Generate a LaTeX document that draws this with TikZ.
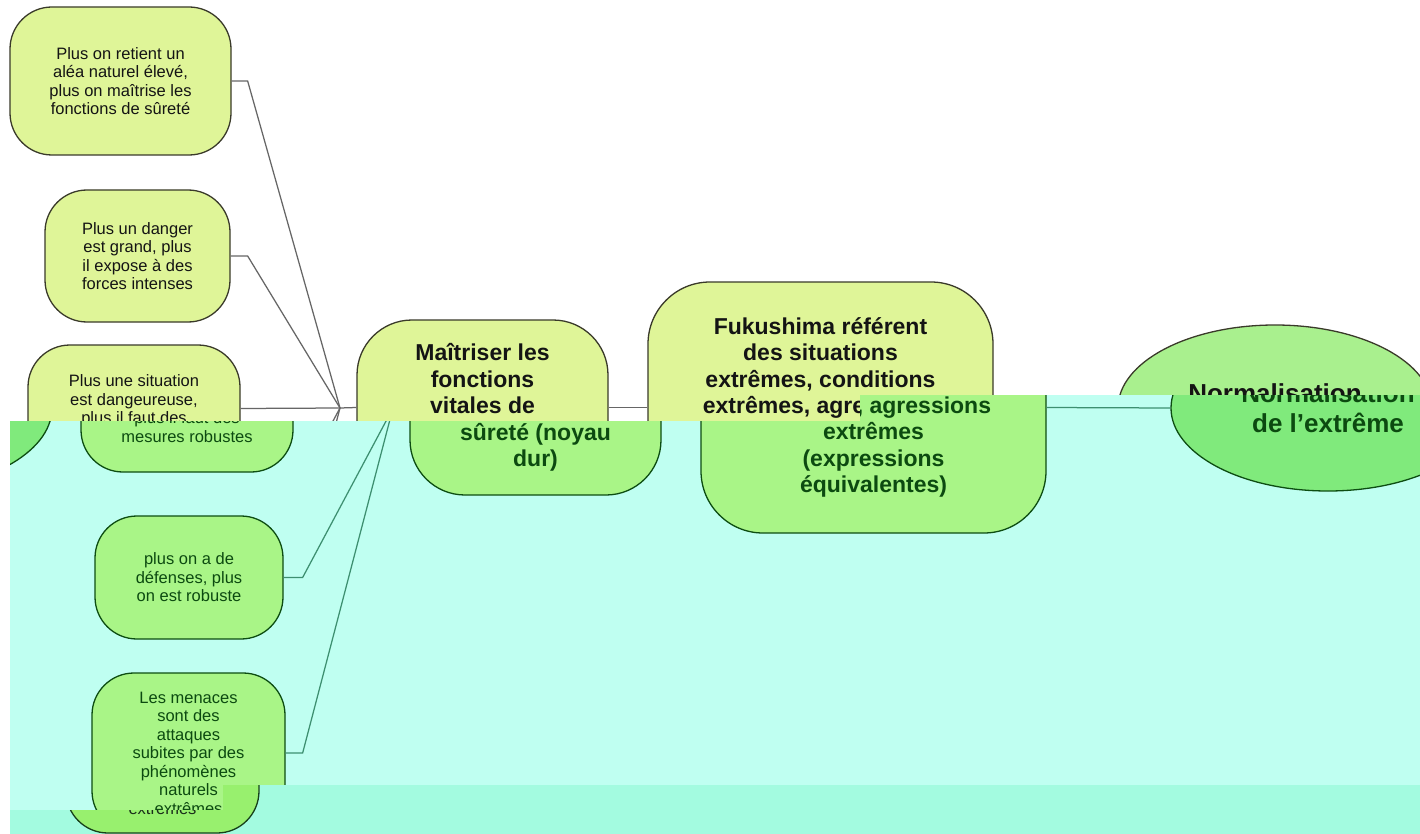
\documentclass[tikz,border=0pt]{standalone}
\usepackage{fontspec}
\setmainfont{Liberation Sans}
\usetikzlibrary{shapes.geometric}

% palettes
\definecolor{upBg}{HTML}{FFFFFF}
\definecolor{upLeaf}{HTML}{DFF598}
\definecolor{upRoot}{HTML}{A9F08E}
\definecolor{upEdge}{HTML}{3A3A2A}
\definecolor{upInk}{HTML}{141414}
\definecolor{upLink}{HTML}{666666}

\definecolor{midBg}{HTML}{BFFFF1}
\definecolor{midLeaf}{HTML}{A9F587}
\definecolor{midRoot}{HTML}{80EA7C}
\definecolor{midEdge}{HTML}{0D4D12}
\definecolor{midInk}{HTML}{0C4A10}
\definecolor{midLink}{HTML}{3D8F70}

\definecolor{lowBg}{HTML}{A3FBE0}
\definecolor{lowLeaf}{HTML}{98F06E}
\definecolor{lowRoot}{HTML}{70E070}
\definecolor{lowEdge}{HTML}{17401A}
\definecolor{lowInk}{HTML}{1A2E1A}
\definecolor{lowLink}{HTML}{3D8F70}

\tikzset{
  leaf/.style={draw=edgecol, fill=leaffill, line width=1.3pt, rounded corners=42pt,
    align=center, inner sep=0pt, text=inkcol,
    font=\fontsize{16.5}{18.5}\selectfont},
  core/.style={draw=edgecol, fill=leaffill, line width=1.3pt,
    align=center, inner sep=0pt, text=inkcol,
    font=\bfseries\fontsize{23}{26.4}\selectfont},
  rootnode/.style={ellipse, draw=edgecol, fill=rootfill, line width=1.3pt,
    align=center, inner sep=0pt, text=inkcol,
    font=\bfseries\fontsize{26}{30}\selectfont},
  link/.style={draw=linkcol, line width=1.25pt}
}

% nodes of the map; #1 prefixes every name
\newcommand\leafOne[1]{%
  \node[leaf, minimum width=221pt, minimum height=148pt] (#1n1) at (120.5,81)
    {Plus on retient un\\aléa naturel élevé,\\plus on maîtrise les\\fonctions de sûreté};}
\newcommand\leafTwo[1]{%
  \node[leaf, minimum width=185pt, minimum height=132pt] (#1n2) at (137.5,256)
    {Plus un danger\\est grand, plus\\il expose à des\\forces intenses};}
\newcommand\leafThree[1]{%
  \node[leaf, minimum width=212pt, minimum height=127pt] (#1n3) at (134,408.5)
    {Plus une situation\\est dangeureuse,\\plus il faut des\\mesures robustes};}
\newcommand\leafFour[1]{%
  \node[leaf, minimum width=188pt, minimum height=123pt] (#1n4) at (136,577.5)
    {plus on a de\\défenses, plus\\on est robuste};}
\newcommand\leafFive[1]{%
  \node[leaf, minimum width=193pt, minimum height=160pt] (#1n5) at (135.5,753)
    {Les menaces\\sont des\\attaques\\subites par des\\phénomènes\\naturels\\extrêmes};}
% central chain: hub, core nodes, root ellipse and their links
\newcommand\spine[1]{%
  \node[core, rounded corners=55pt, minimum width=251pt, minimum height=175pt] (#1m) at (482.5,407.5)
    {Maîtriser les\\fonctions\\vitales de\\sûreté (noyau\\dur)};
  \node[core, rounded corners=62pt, minimum width=345pt, minimum height=251pt] (#1f) at (820.5,407.5)
    {Fukushima référent\\des situations\\extrêmes, conditions\\extrêmes, agressions\\extrêmes\\(expressions\\équivalentes)};
  \node[rootnode, minimum width=314pt, minimum height=166pt] (#1e) at (1275,408)
    {Normalisation\\de l'extrême};
  \coordinate (#1hub) at (340,408);
  \draw[link] (#1hub) -- (#1m.west);
  \draw[link] (#1m.east) -- (#1f.west);
  \draw[link] (#1f.east) -- (#1e.west);}

\begin{document}
\begin{tikzpicture}[x=1pt, y=-1pt]
  \useasboundingbox (0,0) rectangle (1420,834);
  \fill[white] (0,0) rectangle (1420,834);

  % upper part
  \begin{scope}
    \colorlet{leaffill}{upLeaf}\colorlet{rootfill}{upRoot}
    \colorlet{edgecol}{upEdge}\colorlet{inkcol}{upInk}\colorlet{linkcol}{upLink}
    \clip (0,0) -- (1420,0) -- (1420,395) -- (860,395) -- (860,421)
      -- (10,421) -- (10,834) -- (0,834) -- cycle;
    \fill[upBg] (0,0) rectangle (1420,834);
    \spine{a}
    \leafOne{a}\leafTwo{a}\leafThree{a}
    \coordinate (a4) at (249,577.5);
    \coordinate (a5) at (249,755);
    \draw[link] (an1.east) -- ++(16,0) -- (ahub);
    \draw[link] (an2.east) -- ++(17,0) -- (ahub);
    \draw[link] (an3.east) -- (ahub);
    \draw[link] (a4) -- (ahub);
    \draw[link] (a5) -- (ahub);
  \end{scope}

  % middle band: cyan cast, offset to the right
  \begin{scope}
    \colorlet{leaffill}{midLeaf}\colorlet{rootfill}{midRoot}
    \colorlet{edgecol}{midEdge}\colorlet{inkcol}{midInk}\colorlet{linkcol}{midLink}
    \clip (10,421) -- (860,421) -- (860,395) -- (1420,395) -- (1420,785)
      -- (223,785) -- (223,810) -- (10,810) -- cycle;
    \fill[midBg] (0,0) rectangle (1420,834);
    \filldraw[fill=midRoot, draw=midEdge, line width=1.3pt]
      (-105,408) ellipse [x radius=157pt, y radius=83pt];
    \begin{scope}[shift={(53,0)}]
      \spine{b}
      \leafThree{b}\leafFour{b}\leafFive{b}
      \draw[link] (bn3.east) -- (bhub);
      \draw[link] (bn4.east) -- ++(19,0) -- (bhub);
      \draw[link] (bn5.east) -- ++(17,0) -- (bhub);
    \end{scope}
  \end{scope}

  % bottom band
  \begin{scope}
    \colorlet{leaffill}{lowLeaf}\colorlet{rootfill}{lowRoot}
    \colorlet{edgecol}{lowEdge}\colorlet{inkcol}{lowInk}\colorlet{linkcol}{lowLink}
    \clip (10,810) -- (223,810) -- (223,785) -- (1420,785) -- (1420,834)
      -- (10,834) -- cycle;
    \fill[lowBg] (0,0) rectangle (1420,834);
    \begin{scope}[shift={(27,0)}]
      \leafFive{c}
    \end{scope}
  \end{scope}
\end{tikzpicture}
\end{document}
